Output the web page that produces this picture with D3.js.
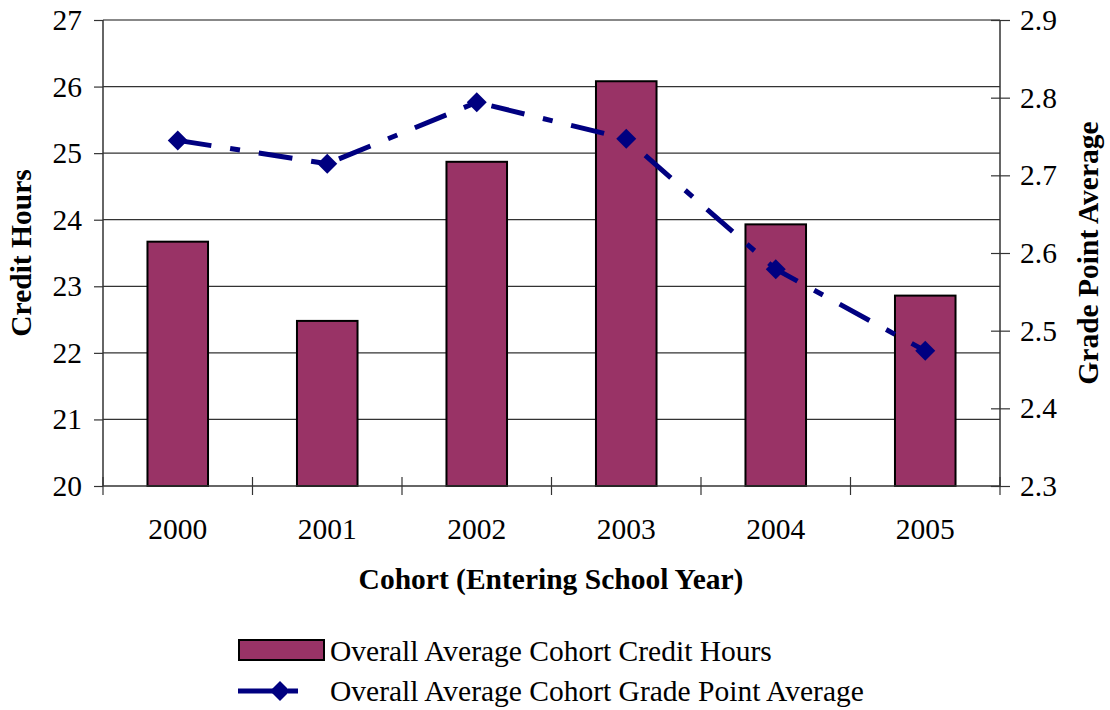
<!DOCTYPE html>
<html><head><meta charset="utf-8">
<script src="https://cdn.jsdelivr.net/npm/d3@7"></script>
<style>body{margin:0;background:#fff}svg{display:block}text{font-family:"Liberation Serif","Times New Roman",serif;fill:#000}</style>
</head><body><svg id="c" width="1110" height="710"></svg>
<script>
const categories = ["2000","2001","2002","2003","2004","2005"];
const creditHours = [23.67, 22.48, 24.87, 26.08, 23.93, 22.86];
const gpa = [2.745, 2.715, 2.794, 2.747, 2.579, 2.474];
const leftTicks = [20,21,22,23,24,25,26,27];
const rightTicks = [2.3,2.4,2.5,2.6,2.7,2.8,2.9];
const seriesNames = ["Overall Average Cohort Credit Hours","Overall Average Cohort Grade Point Average"];

const svg = d3.select("#c");
const L = 103, R = 1000, T = 20, B = 486;
const x = d3.scaleBand().domain(categories).range([L, R]).paddingInner(0).paddingOuter(0);
const yL = d3.scaleLinear().domain([20, 27]).range([B, T]);
const yR = d3.scaleLinear().domain([2.3, 2.9]).range([B, T]);
const fs = 29.5;
const fsb = 29.5;

// gridlines
svg.append("g").selectAll("line").data(leftTicks.slice(1)).join("line")
  .attr("x1", L).attr("x2", R).attr("y1", d => yL(d)).attr("y2", d => yL(d))
  .attr("stroke", d => d === 27 ? "#888" : "#333").attr("stroke-width", d => d === 27 ? 2 : 1.2);

// bars
const bw = x.bandwidth() * 0.405;
svg.append("g").selectAll("rect").data(categories).join("rect")
  .attr("x", d => x(d) + x.bandwidth()/2 - bw/2)
  .attr("y", (d,i) => yL(creditHours[i]))
  .attr("width", bw)
  .attr("height", (d,i) => yL(20) - yL(creditHours[i]))
  .attr("fill", "#993366").attr("stroke", "#000").attr("stroke-width", 2);

// axes
const axL = svg.append("g").attr("transform", `translate(${L},0)`)
  .call(d3.axisLeft(yL).tickValues(leftTicks).tickSize(9).tickPadding(12).tickFormat(d3.format("d")));
const axR = svg.append("g").attr("transform", `translate(${R},0)`)
  .call(d3.axisRight(yR).tickValues(rightTicks).tickSize(10).tickPadding(10).tickFormat(d3.format(".1f")));
axR.selectAll(".tick line").attr("x1", -9);
const axB = svg.append("g").attr("transform", `translate(0,${B})`)
  .call(d3.axisBottom(x).tickSize(0).tickPadding(32));
// category boundary ticks
const bounds = categories.map(c => x(c)).concat([R]);
svg.append("g").selectAll("line").data(bounds).join("line")
  .attr("x1", d => d).attr("x2", d => d).attr("y1", B - 9).attr("y2", B + 9)
  .attr("stroke", "#333").attr("stroke-width", 1.2);
[axL, axR, axB].forEach(a => {
  a.select(".domain").attr("stroke", "#333").attr("stroke-width", 1.5);
  a.selectAll(".tick line").attr("stroke", "#333").attr("stroke-width", 1.2);
  a.selectAll("text").attr("font-size", fs).attr("fill", "#000");
});
axL.select(".domain").attr("d", `M0,${T}V${B}`);
axR.select(".domain").attr("d", `M0,${T}V${B}`);
axB.select(".domain").attr("d", `M${L},0H${R}`);

// GPA line
const lineGen = d3.line().x((d,i) => x(categories[i]) + x.bandwidth()/2).y(d => yR(d));
svg.append("path").datum(gpa).attr("d", lineGen)
  .attr("fill", "none").attr("stroke", "#000080").attr("stroke-width", 5)
  .attr("stroke-dasharray", "34,19,10,19");
const diamond = (cx, cy, r) => `M${cx},${cy-r}L${cx+r},${cy}L${cx},${cy+r}L${cx-r},${cy}Z`;
svg.append("g").selectAll("path").data(gpa).join("path")
  .attr("d", (d,i) => diamond(x(categories[i]) + x.bandwidth()/2, yR(d), 10))
  .attr("fill", "#000080");

// axis titles
svg.append("text").attr("transform", `translate(31,253) rotate(-90)`).attr("text-anchor", "middle")
  .attr("font-size", fsb).attr("font-weight", "bold").text("Credit Hours");
svg.append("text").attr("transform", `translate(1098,253) rotate(-90)`).attr("text-anchor", "middle")
  .attr("font-size", fsb).attr("font-weight", "bold").text("Grade Point Average");
svg.append("text").attr("x", 551).attr("y", 589).attr("text-anchor", "middle")
  .attr("font-size", fsb).attr("font-weight", "bold").text("Cohort (Entering School Year)");

// legend
const lg = svg.append("g");
lg.append("rect").attr("x", 239).attr("y", 640).attr("width", 85).attr("height", 20)
  .attr("fill", "#993366").attr("stroke", "#000").attr("stroke-width", 2);
lg.append("text").attr("x", 330).attr("y", 661).attr("font-size", fs).text(seriesNames[0]);
lg.append("line").attr("x1", 238).attr("x2", 303).attr("y1", 691).attr("y2", 691)
  .attr("stroke", "#000080").attr("stroke-width", 5).attr("stroke-dasharray", "40,10,10,10");
lg.append("path").attr("d", diamond(280, 691, 10)).attr("fill", "#000080");
lg.append("text").attr("x", 330).attr("y", 701).attr("font-size", fs).text(seriesNames[1]);
</script></body></html>
